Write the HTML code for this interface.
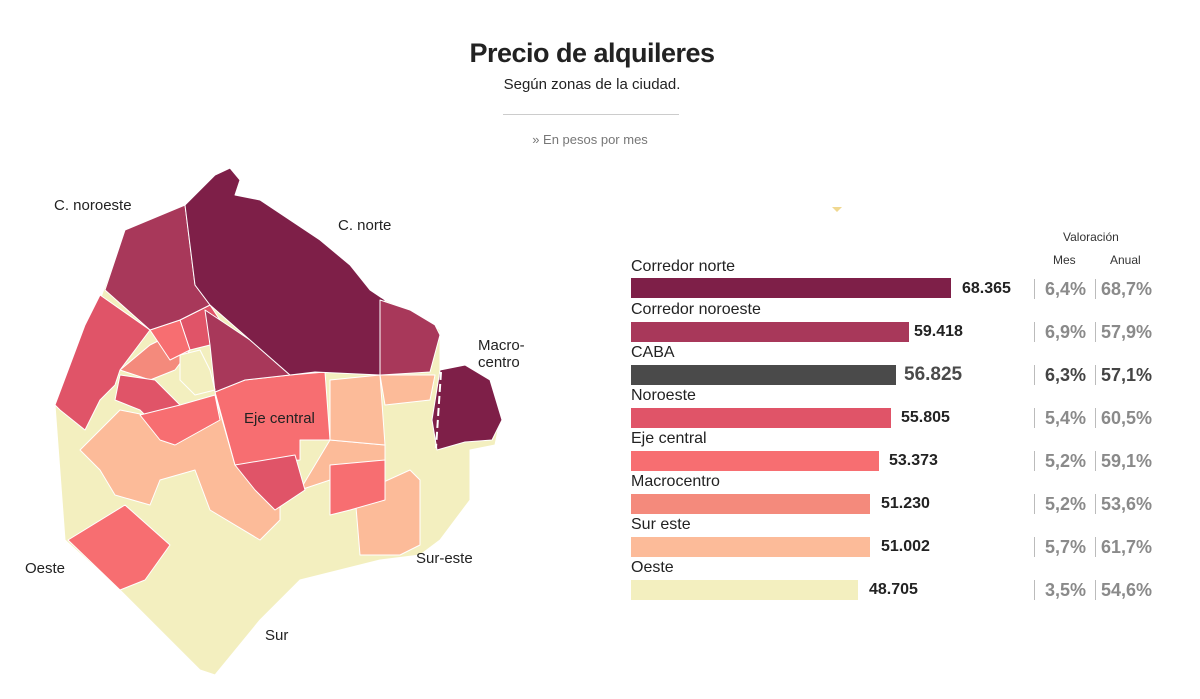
<!DOCTYPE html>
<html><head><meta charset="utf-8"><style>
body{margin:0;width:1200px;height:699px;background:#fff;font-family:"Liberation Sans",sans-serif;position:relative;overflow:hidden;color:#222}
.a{position:absolute;white-space:nowrap}
.lbl{font-size:16px;color:#222}
.bar{position:absolute;left:631px;height:20px}
.val{font-size:16px;font-weight:bold;color:#222}
.p{font-size:18px;color:#8a8a8a;font-weight:bold}
.sep{position:absolute;width:1px;height:20px;background:#bbb}
</style></head><body>
<div class="a" style="left:0;width:1184px;text-align:center;top:38px;font-size:27px;font-weight:bold;letter-spacing:-0.5px">Precio de alquileres</div>
<div class="a" style="left:0;width:1184px;text-align:center;top:76px;font-size:15px">Según zonas de la ciudad.</div>
<div class="a" style="left:503px;top:114px;width:176px;height:1px;background:#ccc"></div>
<div class="a" style="left:0;width:1180px;text-align:center;top:132px;font-size:13px;color:#777">» En pesos por mes</div>
<div class="a" style="left:832px;top:207px;width:0;height:0;border-left:5px solid transparent;border-right:5px solid transparent;border-top:5px solid #f0d890"></div>

<svg class="a" style="left:0;top:0" width="560" height="699" viewBox="0 0 560 699">
<g stroke="#fff" stroke-width="1" stroke-linejoin="round">
<polygon fill="#f3efbf" points="185,205 215,175 230,168 240,180 235,195 260,200 290,220 320,240 350,265 370,290 385,300 410,310 440,330 440,370 465,365 490,380 500,420 495,445 470,450 470,500 440,540 420,555 380,560 300,580 260,620 215,675 200,670 120,590 65,540 55,405 100,300 125,230"/>
<polygon fill="#fcbb99" points="80,450 120,410 170,420 195,415 215,395 235,465 290,460 300,490 330,440 385,445 385,500 350,510 330,480 300,490 280,505 280,520 260,540 210,510 195,470 160,480 150,505 115,495 100,470"/>
<polygon fill="#fcbb99" points="330,380 380,375 385,445 330,440"/>
<polygon fill="#fcbb99" points="380,375 435,375 430,400 385,405"/>
<polygon fill="#fcbb99" points="355,495 410,470 420,480 420,545 400,555 360,555"/>
<polygon fill="#f48a7c" points="120,370 150,345 180,330 190,350 175,370 150,380"/>
<polygon fill="#e05468" points="100,295 150,330 120,370 115,385 100,400 85,430 60,410 55,405 85,325"/>
<polygon fill="#e05468" points="120,375 155,380 170,395 180,405 155,425 140,410 115,400"/>
<polygon fill="#e05468" points="180,320 210,305 220,320 210,345 190,350"/>
<polygon fill="#f76e71" points="150,330 180,320 190,350 170,360"/>
<polygon fill="#f76e71" points="140,415 180,405 215,395 220,420 175,445 160,440"/>
<polygon fill="#f76e71" points="215,392 245,380 290,375 325,372 330,440 300,440 300,460 235,465"/>
<polygon fill="#f76e71" points="330,465 385,460 385,500 350,510 330,515"/>
<polygon fill="#e05468" points="235,465 295,455 305,490 275,510 255,490"/>
<polygon fill="#f76e71" points="68,540 125,505 170,545 145,580 120,590"/>
<polygon fill="#a8385a" points="125,230 185,205 195,285 210,305 180,320 150,330 105,290"/>
<polygon fill="#a8385a" points="205,310 250,340 290,375 245,380 215,392 210,345"/>
<polygon fill="#f3efbf" points="180,355 200,350 210,370 215,390 195,395 180,380"/>
<polygon fill="#7e1f48" points="185,205 215,175 230,168 240,180 235,195 260,200 290,220 320,240 350,265 370,290 385,300 385,330 380,375 315,372 290,375 250,340 210,305 195,285"/>
<polygon fill="#a8385a" points="380,300 410,310 435,325 440,335 430,372 380,375"/>
<polygon fill="#7e1f48" points="440,370 465,365 490,380 502,420 492,440 465,442 437,450 432,420"/>
</g>
<line x1="441" y1="372" x2="436" y2="448" stroke="#fff" stroke-width="2" stroke-dasharray="8,4"/>
<g font-family="Liberation Sans, sans-serif" font-size="15" fill="#222">
<text x="54" y="210">C. noroeste</text>
<text x="338" y="230">C. norte</text>
<text x="478" y="350">Macro-</text>
<text x="478" y="367">centro</text>
<text x="244" y="423">Eje central</text>
<text x="25" y="573">Oeste</text>
<text x="416" y="563">Sur-este</text>
<text x="265" y="640">Sur</text>
</g>
</svg>

<div class="a" style="left:1063px;top:230px;font-size:12px;color:#333">Valoración</div>
<div class="a" style="left:1053px;top:253px;font-size:12px;color:#333">Mes</div>
<div class="a" style="left:1110px;top:253px;font-size:12px;color:#333">Anual</div>

<div class="a lbl" style="left:631px;top:258px">Corredor norte</div>
<div class="bar" style="top:278px;width:320px;background:#7e1f48"></div>
<div class="a val" style="left:962px;top:280px">68.365</div>
<div class="sep" style="left:1034px;top:279px"></div><div class="a p" style="left:1045px;top:279px">6,4%</div>
<div class="sep" style="left:1095px;top:279px"></div><div class="a p" style="left:1101px;top:279px">68,7%</div>

<div class="a lbl" style="left:631px;top:301px">Corredor noroeste</div>
<div class="bar" style="top:322px;width:278px;background:#a8385a"></div>
<div class="a val" style="left:914px;top:323px">59.418</div>
<div class="sep" style="left:1034px;top:322px"></div><div class="a p" style="left:1045px;top:322px">6,9%</div>
<div class="sep" style="left:1095px;top:322px"></div><div class="a p" style="left:1101px;top:322px">57,9%</div>

<div class="a lbl" style="left:631px;top:344px">CABA</div>
<div class="bar" style="top:365px;width:265px;background:#4a4a4a"></div>
<div class="a" style="left:904px;top:364px;font-size:19px;color:#4a4a4a;font-weight:bold">56.825</div>
<div class="sep" style="left:1034px;top:365px"></div><div class="a p" style="left:1045px;top:365px;color:#444">6,3%</div>
<div class="sep" style="left:1095px;top:365px"></div><div class="a p" style="left:1101px;top:365px;color:#444">57,1%</div>

<div class="a lbl" style="left:631px;top:387px">Noroeste</div>
<div class="bar" style="top:408px;width:260px;background:#e05468"></div>
<div class="a val" style="left:901px;top:409px">55.805</div>
<div class="sep" style="left:1034px;top:408px"></div><div class="a p" style="left:1045px;top:408px">5,4%</div>
<div class="sep" style="left:1095px;top:408px"></div><div class="a p" style="left:1101px;top:408px">60,5%</div>

<div class="a lbl" style="left:631px;top:430px">Eje central</div>
<div class="bar" style="top:451px;width:248px;background:#f76e71"></div>
<div class="a val" style="left:889px;top:452px">53.373</div>
<div class="sep" style="left:1034px;top:451px"></div><div class="a p" style="left:1045px;top:451px">5,2%</div>
<div class="sep" style="left:1095px;top:451px"></div><div class="a p" style="left:1101px;top:451px">59,1%</div>

<div class="a lbl" style="left:631px;top:473px">Macrocentro</div>
<div class="bar" style="top:494px;width:239px;background:#f48a7c"></div>
<div class="a val" style="left:881px;top:495px">51.230</div>
<div class="sep" style="left:1034px;top:494px"></div><div class="a p" style="left:1045px;top:494px">5,2%</div>
<div class="sep" style="left:1095px;top:494px"></div><div class="a p" style="left:1101px;top:494px">53,6%</div>

<div class="a lbl" style="left:631px;top:516px">Sur este</div>
<div class="bar" style="top:537px;width:239px;background:#fcbb99"></div>
<div class="a val" style="left:881px;top:538px">51.002</div>
<div class="sep" style="left:1034px;top:537px"></div><div class="a p" style="left:1045px;top:537px">5,7%</div>
<div class="sep" style="left:1095px;top:537px"></div><div class="a p" style="left:1101px;top:537px">61,7%</div>

<div class="a lbl" style="left:631px;top:559px">Oeste</div>
<div class="bar" style="top:580px;width:227px;background:#f3efbf"></div>
<div class="a val" style="left:869px;top:581px">48.705</div>
<div class="sep" style="left:1034px;top:580px"></div><div class="a p" style="left:1045px;top:580px">3,5%</div>
<div class="sep" style="left:1095px;top:580px"></div><div class="a p" style="left:1101px;top:580px">54,6%</div>
</body></html>
